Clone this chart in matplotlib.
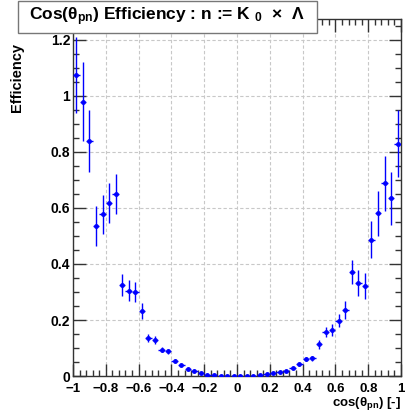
import numpy as np
import matplotlib
matplotlib.use("Agg")
import matplotlib.pyplot as plt
from matplotlib.ticker import MultipleLocator, FuncFormatter
from matplotlib.patches import Rectangle

plt.rcParams['font.family'] = ['Liberation Sans', 'DejaVu Sans']
plt.rcParams['mathtext.fontset'] = 'custom'
plt.rcParams['mathtext.rm'] = 'Liberation Sans'
plt.rcParams['mathtext.it'] = 'Liberation Sans:italic'
plt.rcParams['mathtext.bf'] = 'Liberation Sans:bold'

# bin centres of cos(theta_pn), 50 bins of width 0.04
bin_centers = np.arange(-0.98, 1.0, 0.04)
bin_half = 0.02

efficiency = [1.075, 0.98, 0.84, 0.536, 0.578, 0.619, 0.65, 0.325, 0.305, 0.300,
              0.232, 0.136, 0.129, 0.094, 0.089, 0.055, 0.039, 0.026, 0.017, 0.009,
              0.004, 0.002, 0.001, 0.0005, 0.0003,
              0.0003, 0.0005, 0.001, 0.003, 0.006, 0.009, 0.013, 0.019, 0.028, 0.042,
              0.061, 0.063, 0.113, 0.157, 0.164, 0.198, 0.235, 0.372, 0.333, 0.321,
              0.486, 0.581, 0.688, 0.634, 0.829]
eff_err = [0.135, 0.14, 0.11, 0.07, 0.07, 0.072, 0.073, 0.04, 0.037, 0.035,
           0.027, 0.015, 0.014, 0.010, 0.009, 0.006, 0.005, 0.004, 0.003, 0.002,
           0.001, 0.001, 0.0005, 0.0003, 0.0002,
           0.0002, 0.0003, 0.0005, 0.001, 0.001, 0.002, 0.002, 0.003, 0.004, 0.006,
           0.008, 0.008, 0.015, 0.018, 0.02, 0.022, 0.033, 0.044, 0.046, 0.046,
           0.066, 0.08, 0.097, 0.093, 0.12]

fig = plt.figure(figsize=(4.07, 4.13), dpi=100)
ax = fig.add_axes([73/407, 1 - 376/413, 328/407, 357/413])

ax.errorbar(bin_centers, efficiency, yerr=eff_err, xerr=bin_half, fmt='o',
            color='blue', ecolor='blue', ms=2.5, elinewidth=1, capsize=0, zorder=3)

ax.set_xlim(-1, 1)
ax.set_ylim(0, 1.275)

ax.xaxis.set_major_locator(MultipleLocator(0.2))
ax.xaxis.set_minor_locator(MultipleLocator(0.04))
ax.yaxis.set_major_locator(MultipleLocator(0.2))
ax.yaxis.set_minor_locator(MultipleLocator(0.05))

fmt = FuncFormatter(lambda v, p: ('%g' % round(v, 3)).replace('-', '\u2212'))
ax.xaxis.set_major_formatter(fmt)
ax.yaxis.set_major_formatter(fmt)

ax.tick_params(which='both', direction='in', top=True, right=True, color='#333333')
ax.tick_params(which='major', length=9, width=1)
ax.tick_params(which='minor', length=4.5, width=1)
ax.tick_params(axis='x', which='major', pad=5, labelsize=9.5)
ax.tick_params(axis='y', which='major', pad=2, labelsize=10)
for lab in ax.get_xticklabels() + ax.get_yticklabels():
    lab.set_fontweight('bold')

ax.grid(True, which='major', linestyle=(0, (3, 2)), color='#c8c8c8', lw=0.8)
ax.set_axisbelow(True)
for s in ax.spines.values():
    s.set_color('#333333')
    s.set_linewidth(1)

ax.set_xlabel('cos(\u03b8$_{\\mathbf{pn}}$) [-]', fontsize=9.5, fontweight='bold',
              ha='right', va='bottom')
ax.xaxis.set_label_coords(1.0, -0.101)
ax.set_ylabel('Efficiency', fontsize=10.5, fontweight='bold', ha='right', va='center')
ax.yaxis.set_label_coords(-0.172, 0.933)

# title box
box = Rectangle((18/407, 1 - 33/413), 299/407, 32/413, transform=fig.transFigure,
                facecolor='white', edgecolor='#777777', lw=1, zorder=10)
fig.patches.append(box)
fig.text(167/407, 1 - 17/413,
         'Cos(\u03b8$_{\\mathbf{pn}}$) Efficiency : n := K $_{\\mathbf{0}}$  \u00d7  \u039b',
         fontsize=12.5, fontweight='bold', ha='center', va='center', zorder=11)

fig.savefig('out.png', dpi=100)
